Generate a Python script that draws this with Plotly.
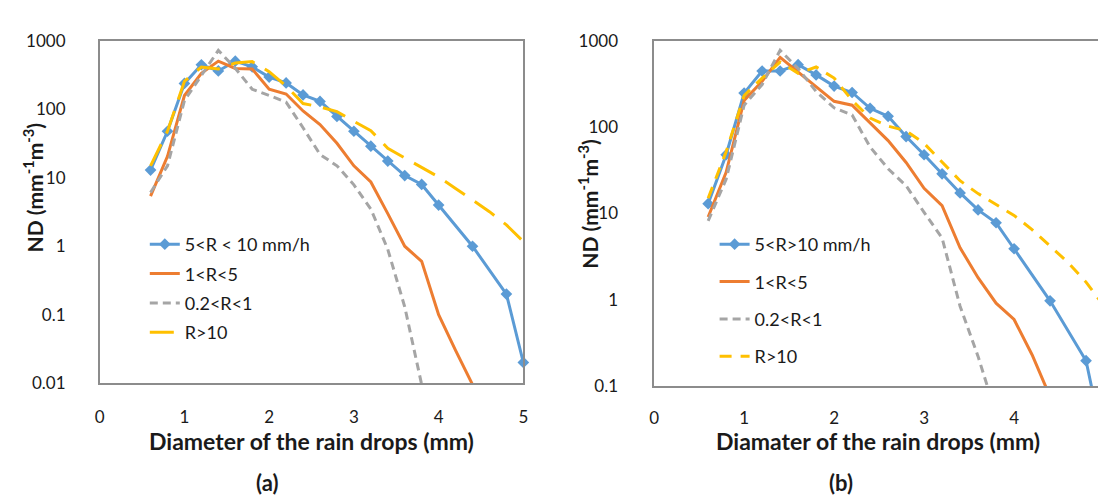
import plotly.graph_objects as go

W, H = 1106, 500

# ---------------- data (a) ----------------
x_blue = [0.6, 0.8, 1.0, 1.2, 1.4, 1.6, 1.8, 2.0, 2.2, 2.4, 2.6, 2.8, 3.0, 3.2, 3.4, 3.6, 3.8, 4.0, 4.4, 4.8, 5.0]
x_orange = [0.6, 0.8, 1.0, 1.2, 1.4, 1.6, 1.8, 2.0, 2.2, 2.4, 2.6, 2.8, 3.0, 3.2, 3.4, 3.6, 3.8, 4.0, 4.2, 4.4]
x_gray = [0.6, 0.8, 1.0, 1.2, 1.4, 1.6, 1.8, 2.0, 2.2, 2.4, 2.6, 2.8, 3.0, 3.2, 3.4, 3.6, 3.8]
x_yellow = [0.6, 0.8, 1.0, 1.2, 1.4, 1.6, 1.8, 2.0, 2.2, 2.4, 2.6, 2.8, 3.0, 3.2, 3.4, 3.6, 3.8, 4.0, 4.2, 4.4, 4.6, 4.8, 5.0]

blue_a = [13, 48, 240, 450, 365, 508, 420, 297, 244, 163, 131, 79, 48, 29, 17.6, 10.8, 8.0, 4.0, 1.0, 0.2, 0.02]
orange_a = [5.4, 20.6, 160, 337, 508, 398, 390, 197, 168, 95, 60, 32, 15, 8.7, 3.0, 1.0, 0.6, 0.1, 0.03, 0.0095]
gray_a = [6.1, 15, 135, 320, 730, 400, 197, 160, 128, 54, 22, 15, 7.9, 3.5, 0.9, 0.13, 0.0095]
yellow_a = [15, 48, 258, 417, 390, 476, 500, 357, 220, 122, 109, 93, 67, 49, 27, 19.5, 14, 10.3, 7.0, 4.8, 3.2, 2.05, 1.17]

# ---------------- data (b) ----------------
blue_b = [13, 48, 249, 449, 449, 532, 405, 300, 253, 166, 134, 78, 48, 28.8, 17.3, 11, 7.8, 3.9, 0.97, 0.196, 0.02]
orange_b = [9.1, 30, 205, 341, 647, 441, 300, 200, 180, 113, 70, 39, 19.6, 12.3, 4.0, 1.8, 0.91, 0.59, 0.23, 0.075]
gray_b = [8.2, 25, 180, 313, 781, 480, 260, 168, 139, 59, 33, 21, 10.3, 5.2, 0.84, 0.22, 0.047]
yellow_b = [15, 52, 233, 372, 570, 423, 500, 372, 205, 128, 103, 91, 65, 40, 24, 17, 12.8, 9.5, 6.5, 4.2, 2.7, 1.6, 0.84]

names_a = ["5<R < 10 mm/h", "1<R<5", "0.2<R<1", "R>10"]
names_b = ["5<R>10 mm/h", "1<R<5", "0.2<R<1", "R>10"]

x_ticks = [0, 1, 2, 3, 4, 5]
y_ticks_a = [0.01, 0.1, 1, 10, 100, 1000]
y_ticks_b = [0.1, 1, 10, 100, 1000]
y_text_a = ["0.01", "0.1", "1", "10", "100", "1000"]
y_text_b = ["0.1", "1", "10", "100", "1000"]

BLUE, ORANGE, GRAY, YELLOW = "#5B9BD5", "#ED7D31", "#A5A5A5", "#FFC000"
FONT = "Lato"
TXT = "#1a1a1a"

fig = go.Figure()


def add_set(xname, yname, legend, names, ys, ydash, clip_blue):
    fig.add_trace(go.Scatter(x=x_blue, y=ys[0], name=names[0], mode="lines+markers",
                             line=dict(color=BLUE, width=3), marker=dict(symbol="diamond", size=9, color=BLUE),
                             xaxis=xname, yaxis=yname, legend=legend, legendgroup=legend + "0",
                             cliponaxis=clip_blue))
    fig.add_trace(go.Scatter(x=x_orange, y=ys[1], name=names[1], mode="lines",
                             line=dict(color=ORANGE, width=3),
                             xaxis=xname, yaxis=yname, legend=legend, legendgroup=legend + "1"))
    fig.add_trace(go.Scatter(x=x_gray, y=ys[2], name=names[2], mode="lines",
                             line=dict(color=GRAY, width=3, dash="8px,5px"),
                             xaxis=xname, yaxis=yname, legend=legend, legendgroup=legend + "2"))
    fig.add_trace(go.Scatter(x=x_yellow, y=ys[3], name=names[3], mode="lines",
                             line=dict(color=YELLOW, width=3, dash=ydash),
                             xaxis=xname, yaxis=yname, legend=legend, legendgroup=legend + "3"))


add_set("x", "y", "legend", names_a, [blue_a, orange_a, gray_a, yellow_a], "24px,12px", False)
add_set("x2", "y2", "legend2", names_b, [blue_b, orange_b, gray_b, yellow_b], "12px,9px", True)

axis_common = dict(showgrid=False, zeroline=False, showline=True, mirror=True,
                   linecolor="#8c8c8c", linewidth=1.5, ticks="",
                   tickfont=dict(family=FONT, size=17, color=TXT))

fig.update_layout(
    width=W, height=H,
    margin=dict(l=0, r=0, t=0, b=0),
    paper_bgcolor="white", plot_bgcolor="white",
    showlegend=True,
    xaxis=dict(domain=[87.5 / W, 515 / W], range=[0, 5], tickvals=x_ticks, anchor="y",
               ticklabelstandoff=18, **axis_common),
    yaxis=dict(domain=[1 - 380 / H, 1 - 23 / H], type="log", range=[-2, 3], tickvals=y_ticks_a,
               ticktext=y_text_a, anchor="x", ticklabelstandoff=29, **axis_common),
    xaxis2=dict(domain=[647 / W, 1101 / W], range=[0, 5], tickvals=x_ticks, anchor="y2",
                ticklabelstandoff=16, **axis_common),
    yaxis2=dict(domain=[1 - 383 / H, 1 - 23 / H], type="log", range=[-1, 3], tickvals=y_ticks_b,
                ticktext=y_text_b, anchor="x2", ticklabelstandoff=31, **axis_common),
    legend=dict(x=133 / W, y=1 - 216 / H, xanchor="left", yanchor="top", bgcolor="rgba(0,0,0,0)",
                font=dict(family=FONT, size=18, color=TXT), tracegroupgap=3, itemwidth=30),
    legend2=dict(x=708 / W, y=1 - 216 / H, xanchor="left", yanchor="top", bgcolor="rgba(0,0,0,0)",
                 font=dict(family=FONT, size=18, color=TXT), tracegroupgap=11, itemwidth=30),
)

ytitle = "ND (mm<sup>-1</sup>m<sup>-3</sup>)"
ann = [
    dict(text=ytitle, x=20 / W, y=1 - 176 / H, textangle=-90, size=21),
    dict(text=ytitle, x=580 / W, y=1 - 193 / H, textangle=-90, size=21),
    dict(text="Diameter of the rain drops (mm)", x=301 / W, y=1 - 440 / H, textangle=0, size=23),
    dict(text="Diamater of the rain drops (mm)", x=873 / W, y=1 - 441 / H, textangle=0, size=23),
    dict(text="(a)", x=256 / W, y=1 - 484 / H, textangle=0, size=22),
    dict(text="(b)", x=836 / W, y=1 - 484 / H, textangle=0, size=22),
]
for a in ann:
    fig.add_annotation(text="<b>" + a["text"] + "</b>", x=a["x"], y=a["y"], xref="paper", yref="paper",
                       xanchor="center", yanchor="middle", showarrow=False, textangle=a["textangle"],
                       font=dict(family=FONT, size=a["size"], color=TXT))

fig.write_html("out.html")
